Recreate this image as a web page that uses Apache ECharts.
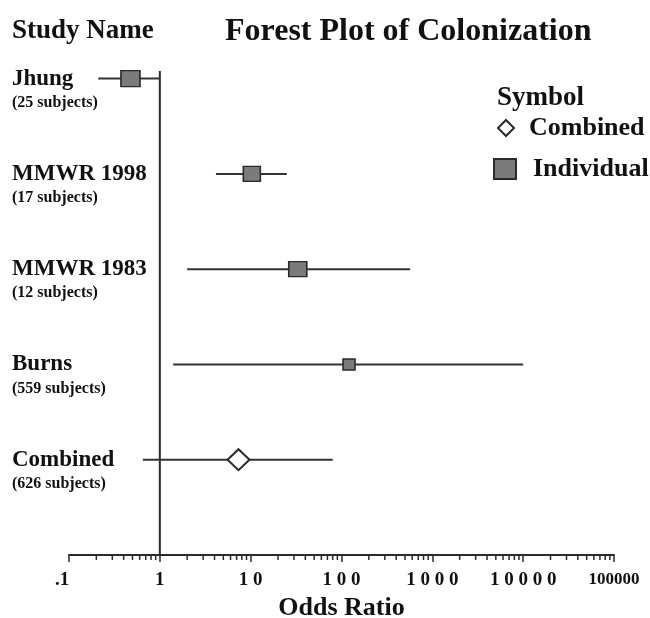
<!DOCTYPE html>
<html>
<head>
<meta charset="utf-8">
<script src="https://cdn.jsdelivr.net/npm/echarts@6/dist/echarts.min.js"></script>
<style>
  html, body { margin: 0; padding: 0; background: #fff; }
  #chart { width: 650px; height: 618px; }
</style>
</head>
<body>
<div id="chart"></div>
<script>
// data
const studies = ['Jhung', 'MMWR 1998', 'MMWR 1983', 'Burns', 'Combined'];
const subjects = [25, 17, 12, 559, 626];
const kinds = ['Individual', 'Individual', 'Individual', 'Individual', 'Combined'];
const oddsRatio = [0.475, 10.3, 33, 121, 7.35];
const ciLow = [0.21, 4.15, 2.0, 1.4, 0.65];
const ciHigh = [1.0, 25, 570, 10000, 80];
const tickLabels = ['.1', '1', '1 0', '1 0 0', '1 0 0 0', '1 0 0 0 0', '100000'];

const FONT = '"Liberation Serif", "DejaVu Serif", serif';
const TEXT = '#111';
const INK = '#2a2a2a';

// box sizes of the individual markers (style only)
const boxSize = [[19, 16], [17, 15], [18, 15], [12, 11]];

const rowOf = i => studies.length - i;   // top study on top
const yMax = 5.08;

// log-scale minor ticks 2..9 inside each decade
const minorTicks = [];
for (let d = -1; d < 5; d++) {
  for (let k = 2; k <= 9; k++) minorTicks.push(k * Math.pow(10, d));
}

const chart = echarts.init(document.getElementById('chart'));

const ciData = studies.map((s, i) => [ciLow[i], ciHigh[i], rowOf(i)]);
const indivData = [];
const combData = [];
studies.forEach((s, i) => {
  if (kinds[i] === 'Individual') {
    indivData.push({ value: [oddsRatio[i], rowOf(i)], symbolSize: boxSize[i] });
  } else {
    combData.push([oddsRatio[i], rowOf(i)]);
  }
});

const option = {
  animation: false,
  backgroundColor: '#fff',
  textStyle: { fontFamily: FONT },
  title: [
    {
      text: 'Forest Plot of Colonization', left: 225, top: 16, padding: 0,
      textStyle: { fontFamily: FONT, fontSize: 32, fontWeight: 'bold', color: TEXT }
    },
    {
      text: 'Study Name', left: 12, top: 18, padding: 0,
      textStyle: { fontFamily: FONT, fontSize: 27, fontWeight: 'bold', color: TEXT }
    },
    {
      text: 'Symbol', left: 497, top: 85, padding: 0,
      textStyle: { fontFamily: FONT, fontSize: 27, fontWeight: 'bold', color: TEXT }
    }
  ],
  legend: [
    {
      data: ['Combined'], orient: 'vertical', left: 497, top: 115, padding: 0,
      itemWidth: 16, itemHeight: 16,
      textStyle: { fontFamily: FONT, fontSize: 26, fontWeight: 'bold', color: TEXT, padding: [0, 0, 0, 10] }
    },
    {
      data: ['Individual'], orient: 'vertical', left: 493, top: 156, padding: 0,
      itemWidth: 22, itemHeight: 20,
      textStyle: { fontFamily: FONT, fontSize: 26, fontWeight: 'bold', color: TEXT, padding: [0, 0, 0, 12] }
    }
  ],
  grid: { left: 69, right: 36, top: 71, bottom: 63, outerBoundsMode: 'none', containLabel: false },
  xAxis: {
    type: 'log',
    logBase: 10,
    min: 0.1,
    max: 100000,
    name: 'Odds Ratio',
    nameLocation: 'middle',
    nameGap: 38,
    nameTextStyle: { fontFamily: FONT, fontSize: 26, fontWeight: 'bold', color: TEXT },
    axisLine: { show: true, lineStyle: { color: INK, width: 2 } },
    axisTick: { show: true, length: 7, lineStyle: { color: INK, width: 1.5 } },
    splitLine: { show: false },
    axisLabel: {
      margin: 16,
      color: TEXT,
      formatter: v => {
        const idx = Math.round(Math.log10(v)) + 1;
        const t = tickLabels[idx];
        if (t === undefined) return '';
        if (idx === 0) return '{pt|' + t + '}';
        return idx === tickLabels.length - 1 ? '{sm|' + t + '}' : '{lg|' + t + '}';
      },
      rich: {
        lg: { fontFamily: FONT, fontSize: 19, fontWeight: 'bold', color: TEXT },
        pt: { fontFamily: FONT, fontSize: 19, fontWeight: 'bold', color: TEXT, padding: [0, 14, 0, 0] },
        sm: { fontFamily: FONT, fontSize: 17, fontWeight: 'bold', color: TEXT }
      }
    }
  },
  yAxis: {
    type: 'value',
    min: 0,
    max: yMax,
    interval: 1,
    axisLine: { show: false },
    axisTick: { show: false },
    splitLine: { show: false },
    axisLabel: {
      align: 'left',
      margin: 57,
      formatter: v => {
        const i = studies.length - Math.round(v);
        if (i < 0 || i >= studies.length || Math.round(v) === 0) return '';
        return '{b| }\n{n|' + studies[i] + '}\n{s|(' + subjects[i] + ' subjects)}';
      },
      rich: {
        b: { fontSize: 15, lineHeight: 24 },
        n: { fontFamily: FONT, fontSize: 23, fontWeight: 'bold', color: TEXT, lineHeight: 24 },
        s: { fontFamily: FONT, fontSize: 16, fontWeight: 'bold', color: TEXT, lineHeight: 24 }
      }
    }
  },
  series: [
    {
      name: 'ref',
      type: 'line',
      data: [[1, 0], [1, yMax]],
      symbol: 'none',
      silent: true,
      lineStyle: { color: INK, width: 2 },
      z: 1
    },
    {
      name: 'minorTicks',
      type: 'custom',
      silent: true,
      data: minorTicks.map(v => [v, 0]),
      encode: { x: 0, y: 1 },
      renderItem: (params, api) => {
        const p = api.coord([api.value(0), 0]);
        return {
          type: 'line',
          shape: { x1: p[0], y1: p[1], x2: p[0], y2: p[1] + 5 },
          style: { stroke: INK, lineWidth: 1.5 }
        };
      },
      z: 1
    },
    {
      name: 'CI',
      type: 'custom',
      silent: true,
      data: ciData,
      encode: { x: [0, 1], y: 2 },
      renderItem: (params, api) => {
        const a = api.coord([api.value(0), api.value(2)]);
        const b = api.coord([api.value(1), api.value(2)]);
        return {
          type: 'line',
          shape: { x1: a[0], y1: a[1], x2: b[0], y2: b[1] },
          style: { stroke: '#333', lineWidth: 2 }
        };
      },
      z: 2
    },
    {
      name: 'Individual',
      type: 'scatter',
      symbol: 'rect',
      data: indivData,
      itemStyle: { color: '#7b7b7b', borderColor: INK, borderWidth: 1.5, opacity: 1 },
      z: 5
    },
    {
      name: 'Combined',
      type: 'scatter',
      symbol: 'diamond',
      symbolSize: [22, 21],
      data: combData,
      itemStyle: { color: '#fff', borderColor: INK, borderWidth: 2, opacity: 1 },
      z: 5
    }
  ]
};

chart.setOption(option);
</script>
</body>
</html>
